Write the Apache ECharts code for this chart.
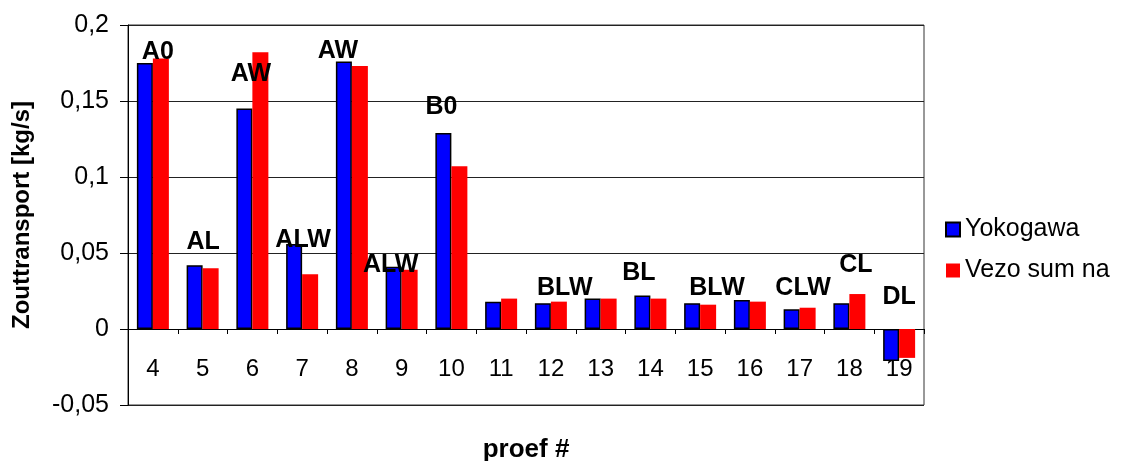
<!DOCTYPE html>
<html>
<head>
<meta charset="utf-8">
<script src="https://cdn.jsdelivr.net/npm/echarts@6/dist/echarts.min.js"></script>
<style>
  html, body { margin: 0; padding: 0; background: #fff; }
  #chart { width: 1121px; height: 461px; }
</style>
</head>
<body>
<div id="chart"></div>
<script>
// Test numbers (proef #)
const proeven = ['4', '5', '6', '7', '8', '9', '10', '11', '12', '13', '14', '15', '16', '17', '18', '19'];

// Salt transport [kg/s] per measurement method
const yokogawa = [0.175, 0.042, 0.145, 0.056, 0.176, 0.041, 0.129, 0.018, 0.017, 0.020, 0.022, 0.017, 0.019, 0.013, 0.017, -0.021];
const vezoSumNa = [0.178, 0.040, 0.182, 0.036, 0.173, 0.039, 0.107, 0.020, 0.018, 0.020, 0.020, 0.016, 0.018, 0.014, 0.023, -0.019];

// Configuration codes written above the bar pairs, anchored at (proef, kg/s)
const codeText = ['A0', 'AL', 'AW', 'ALW', 'AW', 'ALW', 'B0', 'BLW', 'BL', 'BLW', 'CLW', 'CL', 'DL'];
const codeProef = [4.10, 5.01, 5.97, 7.02, 7.72, 8.78, 9.80, 12.28, 13.77, 15.34, 17.07, 18.13, 19.0];
const codeLevel = [0.182, 0.0574, 0.168, 0.0586, 0.183, 0.0421, 0.146, 0.0268, 0.037, 0.0268, 0.0268, 0.042, 0.0213];

// Value axis ticks
const yMin = -0.05, yMax = 0.2, yStep = 0.05;

const FONT = '"Liberation Sans", Arial, sans-serif';
const chart = echarts.init(document.getElementById('chart'), null, { renderer: 'canvas' });

const codePoints = codeText.map((t, i) => ({ name: t, value: [codeProef[i], codeLevel[i]] }));

const plotRect = { left: 128, right: 197, top: 25, bottom: 56, containLabel: false, outerBoundsMode: 'none' };

chart.setOption({
  backgroundColor: '#fff',
  animation: false,
  textStyle: { fontFamily: FONT, color: '#000' },
  grid: [
    Object.assign({ show: true, borderColor: '#333', borderWidth: 1, backgroundColor: 'transparent' }, plotRect),
    Object.assign({ show: false }, plotRect)
  ],
  legend: {
    orient: 'vertical',
    left: 940, top: 212,
    itemWidth: 14, itemHeight: 14, itemGap: 16,
    icon: 'rect',
    textStyle: { fontFamily: FONT, fontSize: 25, color: '#000', lineHeight: 25, padding: [0, 0, 0, 0] },
    data: ['Yokogawa', 'Vezo sum na']
  },
  xAxis: [
    {
      gridIndex: 0,
      type: 'category',
      data: proeven,
      name: 'proef #',
      nameLocation: 'middle',
      nameGap: 32,
      nameTextStyle: { fontFamily: FONT, fontSize: 26, fontWeight: 'bold', color: '#000' },
      axisLine: { onZero: true, lineStyle: { color: '#000', width: 1 } },
      axisTick: { show: true, alignWithLabel: false, length: 5, lineStyle: { color: '#000' } },
      axisLabel: { fontFamily: FONT, fontSize: 24, color: '#000', margin: -48, interval: 0 },
      splitLine: { show: false }
    },
    {
      gridIndex: 1,
      type: 'value',
      min: 3.5, max: 19.5,
      show: false
    }
  ],
  yAxis: [
    {
      gridIndex: 0,
      type: 'value',
      min: yMin, max: yMax, interval: yStep,
      name: 'Zouttransport [kg/s]',
      nameLocation: 'middle',
      nameGap: 94,
      nameTextStyle: { fontFamily: FONT, fontSize: 24, fontWeight: 'bold', color: '#000' },
      axisLine: { show: true, lineStyle: { color: '#000', width: 1 } },
      axisTick: { show: true, length: 8, lineStyle: { color: '#000' } },
      axisLabel: {
        fontFamily: FONT, fontSize: 25, color: '#000', margin: 19,
        formatter: v => String(Number(v.toFixed(2))).replace('.', ',')
      },
      splitLine: { show: true, lineStyle: { color: '#222', width: 1 } }
    },
    {
      gridIndex: 1,
      type: 'value',
      min: yMin, max: yMax,
      show: false
    }
  ],
  series: [
    {
      name: 'Yokogawa',
      type: 'bar',
      data: yokogawa,
      barWidth: 16,
      barGap: '0%',
      itemStyle: { color: '#0000ff', borderColor: '#000', borderWidth: 1.5 }
    },
    {
      name: 'Vezo sum na',
      type: 'bar',
      data: vezoSumNa,
      barWidth: 16,
      barGap: '0%',
      itemStyle: { color: '#ff0000' }
    },
    {
      name: 'codes',
      type: 'scatter',
      xAxisIndex: 1,
      yAxisIndex: 1,
      symbolSize: 0,
      silent: true,
      z: 5,
      data: codePoints,
      itemStyle: { opacity: 1 },
      label: {
        show: true,
        position: 'inside',
        formatter: p => p.name,
        fontFamily: FONT, fontSize: 25, fontWeight: 'bold', color: '#000',
        opacity: 1,
        textBorderWidth: 0
      },
      emphasis: { disabled: true }
    }
  ]
});
</script>
</body>
</html>
